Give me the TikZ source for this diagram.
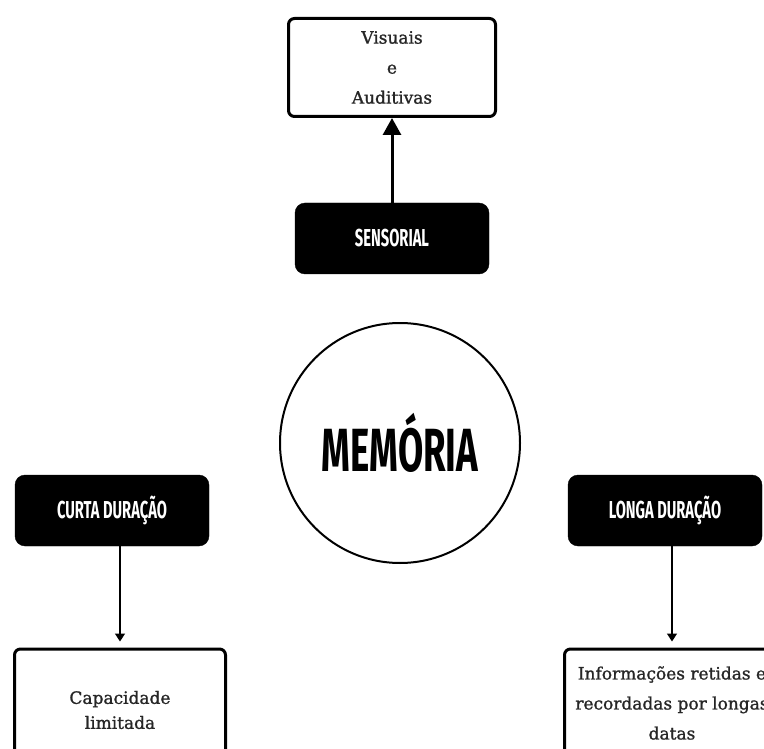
\documentclass[tikz,border=0pt]{standalone}
\usepackage{fontspec}
\setmainfont[FakeBold=1.2]{DejaVu Serif}
\newfontfamily\headfont[FakeStretch=0.6]{Fira Sans}
\usetikzlibrary{arrows.meta}

\tikzset{
  blackbox/.style={draw=black, fill=black, rounded corners=10pt, text=white,
    inner sep=0pt, font=\headfont\bfseries\fontsize{24.5}{24.5}\selectfont},
  whitebox/.style={draw=black, fill=white, line width=3pt, rounded corners=6pt,
    inner sep=0pt, align=center, text=black!85},
  boxtext/.style={font=\fontsize{17}{30}\selectfont},
  thinarrow/.style={-{Triangle[width=10pt,length=8pt]}, line width=1.5pt, shorten >=6pt},
}

\begin{document}
\begin{tikzpicture}[x=1pt,y=-1pt]
  % Page
  \fill[white] (0,0) rectangle (764,749);
  \useasboundingbox (0,0) rectangle (764,749);
  \clip (0,0) rectangle (764,749);

  % Centre
  \node[draw, circle, line width=2pt, minimum size=240pt, inner sep=0pt,
    font=\headfont\bfseries\fontsize{61}{61}\selectfont] (memoria) at (400,443) {MEMÓRIA};

  % Sensorial branch
  \node[blackbox, minimum width=194pt, minimum height=71pt] (sensorial) at (392,238.5) {SENSORIAL};
  \node[whitebox, boxtext, minimum width=207pt, minimum height=98pt] (visuais) at (392,67.5)
    {Visuais\\e\\Auditivas};

  \draw[-{Triangle[width=18pt,length=17pt]}, line width=3pt] (sensorial) -- (visuais);

  % Short term
  \node[blackbox, minimum width=194pt, minimum height=71pt] (curta) at (112,510.5) {CURTA DURAÇÃO};
  \node[whitebox, font=\fontsize{17}{25}\selectfont, minimum width=211pt, minimum height=122pt]
    (capacidade) at (120,710) {Capacidade\\limitada};

  \draw[thinarrow] (curta.south -| capacidade.north) -- (capacidade.north);

  % Long term
  \node[blackbox, minimum width=194pt, minimum height=71pt] (longa) at (665,510.5) {LONGA DURAÇÃO};
  \node[whitebox, boxtext, minimum width=215pt, minimum height=108pt]
    (informacoes) at (672,703) {Informações retidas e\\recordadas por longas\\datas};

  \draw[thinarrow] (longa.south -| informacoes.north) -- (informacoes.north);

\end{tikzpicture}
\end{document}
